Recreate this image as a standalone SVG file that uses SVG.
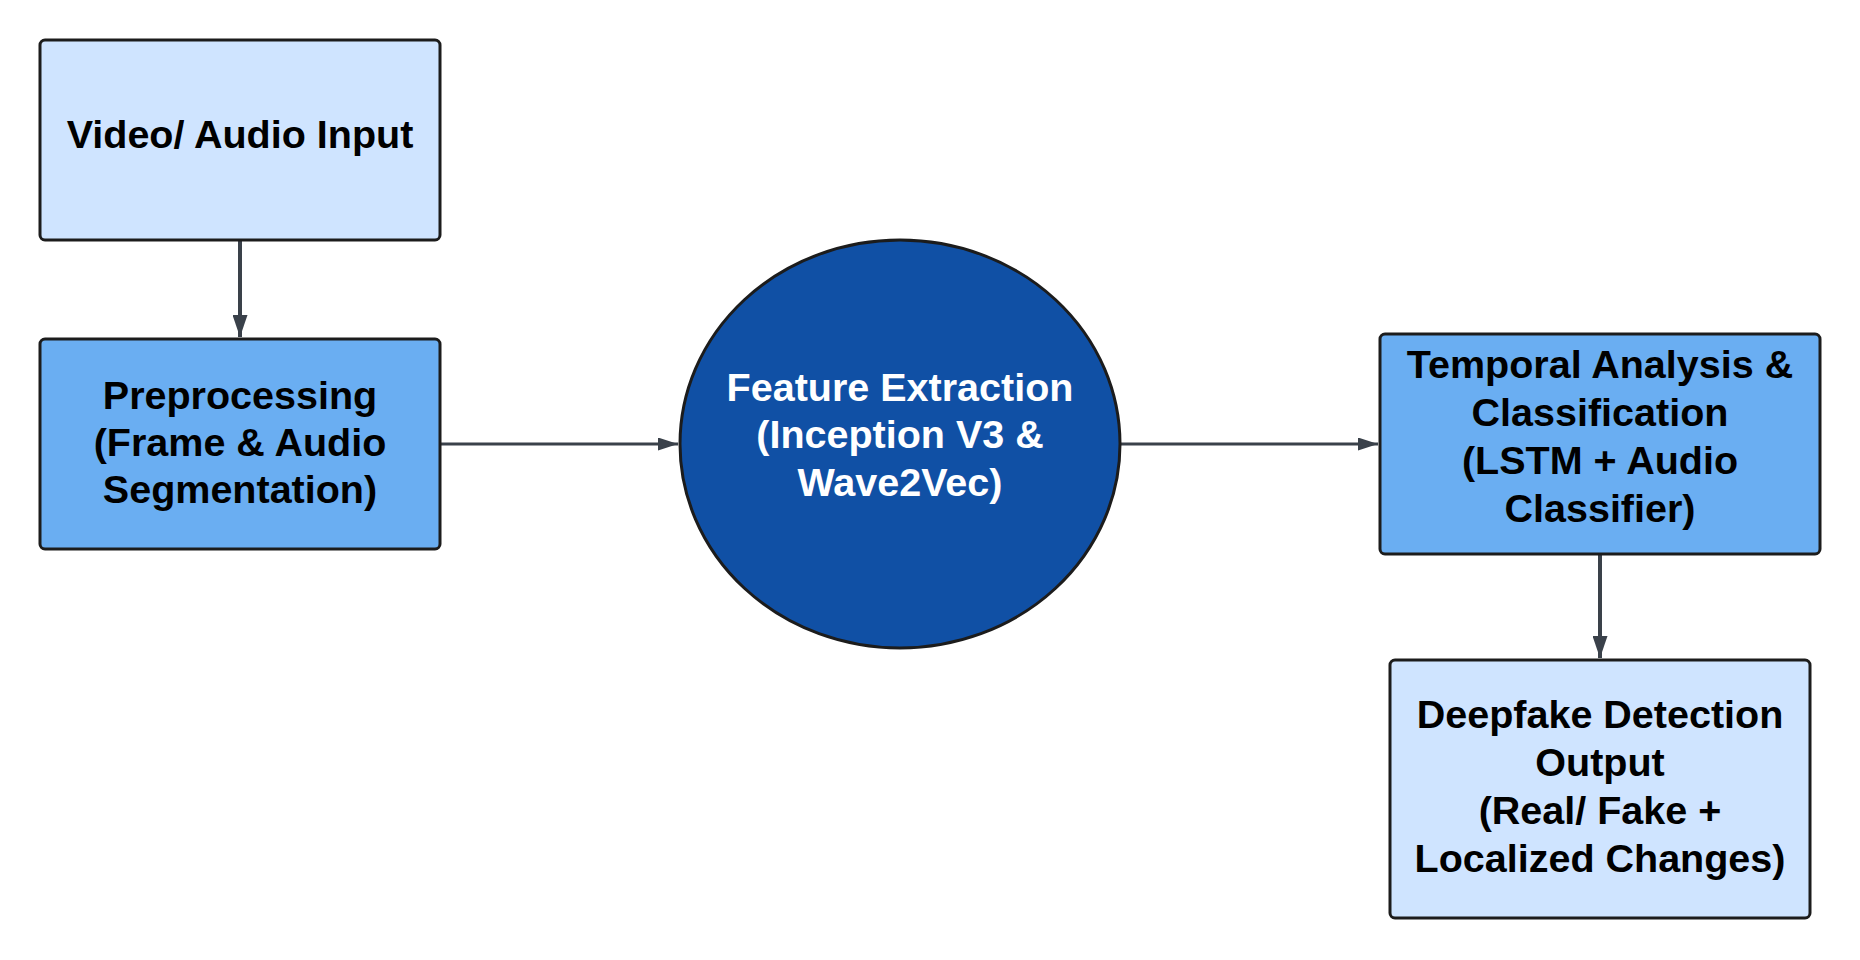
<svg xmlns="http://www.w3.org/2000/svg" width="1860" height="960" viewBox="0 0 1860 960">
<defs>
<style>
.box{stroke:#1c1c1c;stroke-width:3}
.light{fill:#cfe4ff}
.mid{fill:#6aaef2}
.dark{fill:#1050a5}
.t{font-family:"Liberation Sans",Arial,sans-serif;font-weight:bold;font-size:39.5px;text-anchor:middle;fill:#000}
.tw{fill:#fff}
.conn{stroke:#3a414a;fill:none}
.v{stroke-width:4;marker-end:url(#ahv)}
.h{stroke-width:3;marker-end:url(#ahh)}
</style>
<marker id="ahv" viewBox="0 0 22 15" refX="22" refY="7.5" markerWidth="22" markerHeight="15" markerUnits="userSpaceOnUse" orient="auto">
<path d="M0,0 L22,7.5 L0,15 Z" fill="#3a414a"/>
</marker>
<marker id="ahh" viewBox="0 0 20 13" refX="20" refY="6.5" markerWidth="20" markerHeight="13" markerUnits="userSpaceOnUse" orient="auto">
<path d="M0,0 L20,6.5 L0,13 Z" fill="#3a414a"/>
</marker>
</defs>
<rect width="1860" height="960" fill="#fff"/>
<g id="connectors">
<line class="conn v" x1="240" y1="241" x2="240" y2="337"/>
<line class="conn h" x1="441" y1="444" x2="678" y2="444"/>
<line class="conn h" x1="1121" y1="444" x2="1378" y2="444"/>
<line class="conn v" x1="1600" y1="555" x2="1600" y2="658"/>
</g>
<g id="video-audio-input">
<rect class="box light" x="40" y="40" width="400" height="200" rx="5"/>
<text class="t" x="240" y="148">Video/ Audio Input</text>
</g>
<g id="preprocessing">
<rect class="box mid" x="40" y="339" width="400" height="210" rx="5"/>
<text class="t" x="240" y="409">Preprocessing</text>
<text class="t" x="240" y="456">(Frame &amp; Audio</text>
<text class="t" x="240" y="503">Segmentation)</text>
</g>
<g id="feature-extraction">
<ellipse class="box dark" cx="900" cy="444" rx="220" ry="204"/>
<text class="t tw" x="900" y="401">Feature Extraction</text>
<text class="t tw" x="900" y="448">(Inception V3 &amp;</text>
<text class="t tw" x="900" y="496">Wave2Vec)</text>
</g>
<g id="temporal-analysis">
<rect class="box mid" x="1380" y="334" width="440" height="220" rx="5"/>
<text class="t" x="1600" y="378">Temporal Analysis &amp;</text>
<text class="t" x="1600" y="426">Classification</text>
<text class="t" x="1600" y="474">(LSTM + Audio</text>
<text class="t" x="1600" y="522">Classifier)</text>
</g>
<g id="deepfake-output">
<rect class="box light" x="1390" y="660" width="420" height="258" rx="5"/>
<text class="t" x="1600" y="728">Deepfake Detection</text>
<text class="t" x="1600" y="776">Output</text>
<text class="t" x="1600" y="824">(Real/ Fake +</text>
<text class="t" x="1600" y="872">Localized Changes)</text>
</g>
</svg>
